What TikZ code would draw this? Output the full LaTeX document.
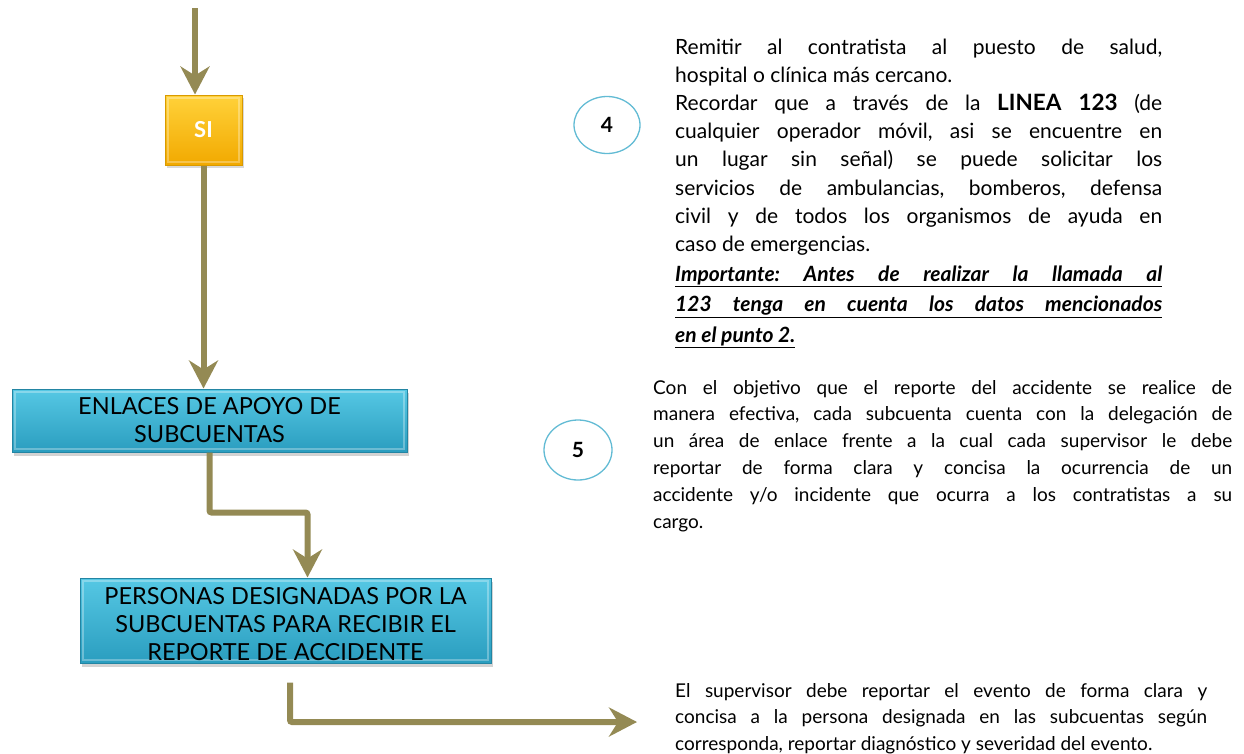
\documentclass[tikz,border=0pt]{standalone}
\usepackage{fontspec}
\setmainfont{Lato}
\usetikzlibrary{positioning,arrows.meta,shapes.geometric,shadows}
\definecolor{olive}{HTML}{948A54}
\definecolor{cyantop}{HTML}{56C8E4}
\definecolor{cyanbot}{HTML}{2A9DBF}
\definecolor{cyanrim}{HTML}{2385A3}
\definecolor{goldtop}{HTML}{FFD23A}
\definecolor{goldbot}{HTML}{F2A900}
\definecolor{goldrim}{HTML}{D99A00}
\definecolor{ringblue}{HTML}{62BBD4}
\hbadness=10000
\frenchspacing

\begin{document}
\begin{tikzpicture}[x=1pt,y=-1pt,
  flow/.style={draw=olive,line width=6pt,-{Stealth[length=28pt,width=29pt,inset=9pt]}},
  elbow/.style={flow,rounded corners=2pt},
  bevel/.style={path picture={\draw[white,opacity=.3,line width=1.5pt]
    ([shift={(3pt,-3pt)}]path picture bounding box.north west) rectangle
    ([shift={(-3pt,3pt)}]path picture bounding box.south east);}},
  panel/.style={draw=cyanrim,line width=1pt,top color=cyantop,bottom color=cyanbot,bevel,
    drop shadow={shadow xshift=2pt,shadow yshift=-4pt,opacity=.35},
    font=\fontsize{23.5}{28}\selectfont,align=center,inner sep=0pt},
  yesbox/.style={draw=goldrim,line width=1pt,top color=goldtop,bottom color=goldbot,bevel,
    drop shadow={shadow xshift=2pt,shadow yshift=-3pt,opacity=.3},
    text=white,font=\fontsize{22}{26}\selectfont\bfseries,
    minimum width=77pt,minimum height=70pt},
  ring/.style={ellipse,draw=ringblue,line width=1.3pt,fill=white,
    font=\fontsize{21}{24}\selectfont\bfseries},
  note/.style={inner sep=0pt,align=justify,anchor=base west,
    font=\fontsize{19}{28}\selectfont}]
\useasboundingbox (0,0) rectangle (1244,753);

% flow boxes
\node[yesbox] (si) at (203.5,130) {SI};
\node[panel,minimum width=395pt,minimum height=63pt] (enl) at (209.5,420.5)
  {ENLACES DE APOYO DE\\SUBCUENTAS};
\node[panel,minimum width=411pt,minimum height=85pt] (pers) at (285.5,620.5)
  {\rule{0pt}{25pt}PERSONAS DESIGNADAS POR LA\\SUBCUENTAS PARA RECIBIR EL\\REPORTE DE ACCIDENTE};

% step markers
\node[ring,minimum width=66pt,minimum height=57pt] (n4) at (607,125) {4};
\node[ring,minimum width=68pt,minimum height=60pt] (n5) at (578,450) {5};

% notes
\node[note,text width=487pt,font=\fontsize{21}{28.2}\selectfont] (t4) at (675,54) {%
Remitir al contratista al puesto de salud,\linebreak
hospital o clínica más cercano.\\
Recordar que a través de la {\fontsize{22.5}{28}\selectfont\bfseries LINEA 123} (de\linebreak
cualquier operador móvil, asi se encuentre en\linebreak
un lugar sin señal) se puede solicitar los\linebreak
servicios de ambulancias, bomberos, defensa\linebreak
civil y de todos los organismos de ayuda en\linebreak
caso de emergencias.\\[2pt]
\underline{\makebox[\hsize][s]{\bfseries\itshape Importante: Antes de realizar la llamada al}}\\[2pt]
\underline{\makebox[\hsize][s]{\bfseries\itshape 123 tenga en cuenta los datos mencionados}}\\[2pt]
\underline{\bfseries\itshape en el punto 2.}};
\node[note,text width=579pt,font=\fontsize{19}{26.8}\selectfont] (t5) at (653,394) {%
Con el objetivo que el reporte del accidente se realice de\linebreak
manera efectiva, cada subcuenta cuenta con la delegación de\linebreak
un área de enlace frente a la cual cada supervisor le debe\linebreak
reportar de forma clara y concisa la ocurrencia de un\linebreak
accidente y/o incidente que ocurra a los contratistas a su\linebreak
cargo.};
\node[note,text width=532pt,font=\fontsize{19}{26.5}\selectfont] (t6) at (675,697) {%
El supervisor debe reportar el evento de forma clara y\linebreak
concisa a la persona designada en las subcuentas según\linebreak
corresponda, reportar diagnóstico y severidad del evento.};

% connectors
\coordinate (top) at (195,8);
\coordinate (out) at (637,722);
\path
  (top)      edge[flow] (top |- si.north)
  (si.south) edge[flow] (si.south |- enl.north);
\draw[elbow] (enl.south) -- ++(0,60) -| ([xshift=22pt]pers.north);
\draw[elbow] ([shift={(4.5pt,-19pt)}]pers.south) |- (out);
\end{tikzpicture}
\end{document}
